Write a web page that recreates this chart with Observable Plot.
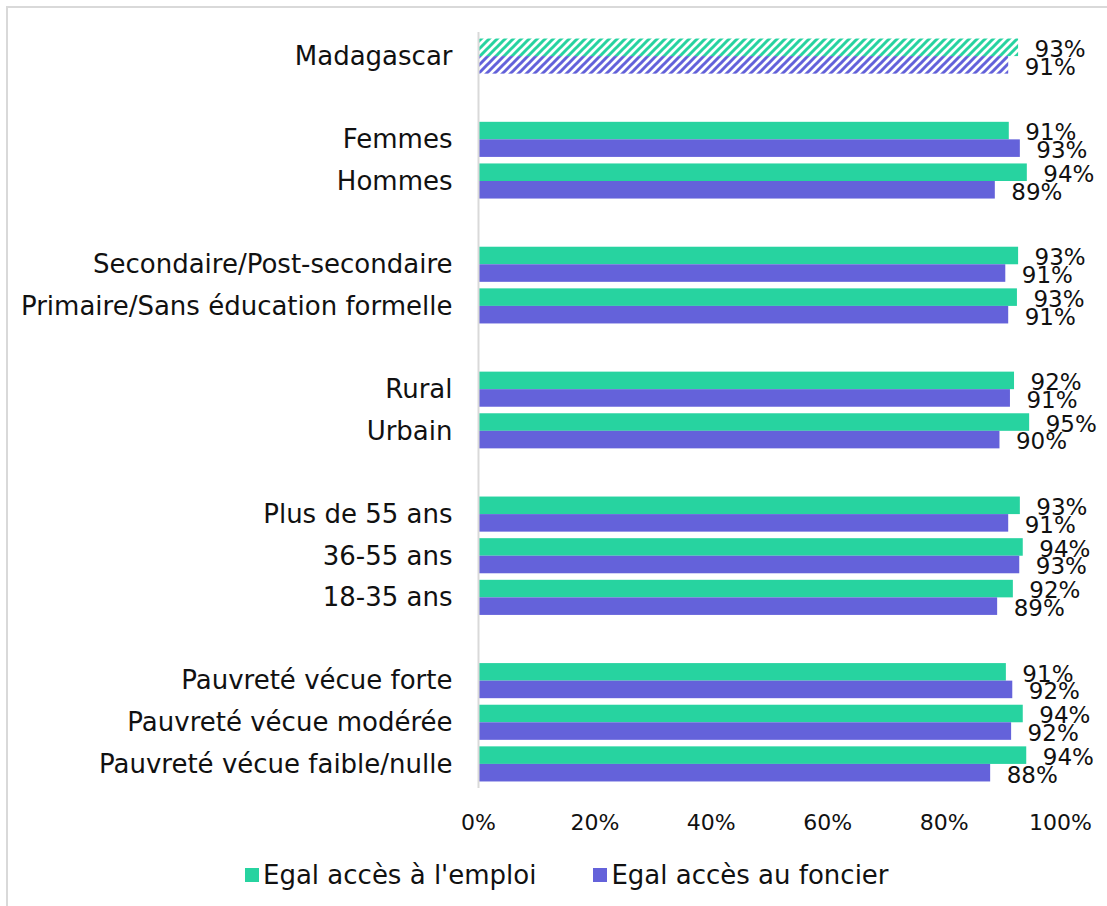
<!DOCTYPE html>
<html><head><meta charset="utf-8">
<script src="https://cdn.jsdelivr.net/npm/d3@7"></script>
<script src="https://cdn.jsdelivr.net/npm/@observablehq/plot@0.6"></script>
<style>
body{margin:0;background:#fff;font-family:"DejaVu Sans",sans-serif;color:#111;}
#frame{position:absolute;left:6px;top:6px;width:1200px;height:1000px;border-left:2px solid #d9d9d9;border-top:2px solid #d9d9d9;}
#chart{position:absolute;left:0;top:0;}
#legend{position:absolute;left:245px;top:860px;height:30px;display:flex;align-items:center;font-size:26px;line-height:30px;white-space:nowrap;}
#legend .sw{display:inline-block;width:14px;height:14px;margin-right:4px;}
#legend .item{display:flex;align-items:center;}
#legend .item + .item{margin-left:57px;}
</style></head>
<body>
<div id="frame"></div>
<div id="chart"></div>
<div id="legend"></div>
<script>
const categories = ["Madagascar","Femmes","Hommes","Secondaire/Post-secondaire","Primaire/Sans éducation formelle","Rural","Urbain","Plus de 55 ans","36-55 ans","18-35 ans","Pauvreté vécue forte","Pauvreté vécue modérée","Pauvreté vécue faible/nulle"];
const groupSizes = [1,2,2,2,3,3];
const emploi  = [92.8,91.2,94.3,92.8,92.6,92.1,94.7,93.1,93.6,91.9,90.7,93.6,94.2];
const foncier = [91.1,93.1,88.8,90.6,91.1,91.4,89.6,91.1,93.0,89.2,91.8,91.6,88.0];
const seriesNames = ["Egal accès à l'emploi","Egal accès au foncier"];
const seriesColors = ["#27d3a0","#6462da"];
const xTicks = [0,20,40,60,80,100];

// y domain with blank spacer rows between groups
const domain = [];
let k = 0;
groupSizes.forEach((n, g) => {
  if (g > 0) domain.push("__gap" + g);
  for (let i = 0; i < n; i++) domain.push(categories[k++]);
});
const rows = categories.map((c, i) => ({cat: c, emploi: emploi[i], foncier: foncier[i], hatched: i === 0}));
const solid = rows.filter(d => !d.hatched);
const hatch = rows.filter(d => d.hatched);

const W = 1107, H = 850, mt = 32, mb = 62, ml = 478, mr = 47;
const pad = 0.157;
const step = (H - mt - mb) / (domain.length + pad);
const bw = step * (1 - pad), half = bw / 2;

const svg = Plot.plot({
  width: W, height: H,
  marginTop: mt, marginBottom: mb, marginLeft: ml, marginRight: mr,
  style: {fontFamily: "DejaVu Sans", color: "#111", background: "transparent"},
  x: {domain: [0, 100], round: false},
  y: {domain, padding: pad, round: false},
  marks: [
    Plot.barX(solid, {y: "cat", x: "emploi", fill: seriesColors[0], insetBottom: half}),
    Plot.barX(solid, {y: "cat", x: "foncier", fill: seriesColors[1], insetTop: half}),
    Plot.barX(hatch, {y: "cat", x: "emploi", fill: "url(#hatchE)", insetBottom: half}),
    Plot.barX(hatch, {y: "cat", x: "foncier", fill: "url(#hatchF)", insetTop: half}),
    Plot.ruleX([0], {stroke: "#d9d9d9", strokeWidth: 2}),
    Plot.text(rows, {y: "cat", x: "emploi", text: d => Math.round(d.emploi) + "%", dx: 16, dy: -half / 2 + 2, textAnchor: "start", fontSize: 23, fill: "#111"}),
    Plot.text(rows, {y: "cat", x: "foncier", text: d => Math.round(d.foncier) + "%", dx: 16, dy: half / 2 + 2, textAnchor: "start", fontSize: 23, fill: "#111"}),
    Plot.axisY({tickSize: 0, tickPadding: 26, fontSize: 26, label: null, tickFormat: d => d.startsWith("__") ? "" : d}),
    Plot.axisX({ticks: xTicks, tickFormat: d => d + "%", tickSize: 0, tickPadding: 26, fontSize: 22, label: null})
  ]
});

const defs = d3.select(svg).insert("defs", ":first-child");
[["hatchE", seriesColors[0]], ["hatchF", seriesColors[1]]].forEach(([id, c]) => {
  const p = defs.append("pattern").attr("id", id).attr("patternUnits", "userSpaceOnUse").attr("width", 8).attr("height", 8);
  p.append("rect").attr("width", 8).attr("height", 8).attr("fill", "#fff");
  p.append("path").attr("d", "M-2,2 L2,-2 M0,8 L8,0 M6,10 L10,6").attr("stroke", c).attr("stroke-width", 3);
});
document.getElementById("chart").appendChild(svg);

const legend = document.getElementById("legend");
seriesNames.forEach((name, i) => {
  const item = document.createElement("span");
  item.className = "item";
  item.innerHTML = `<span class="sw" style="background:${seriesColors[i]}"></span><span>${name}</span>`;
  legend.appendChild(item);
});
</script>
</body></html>
